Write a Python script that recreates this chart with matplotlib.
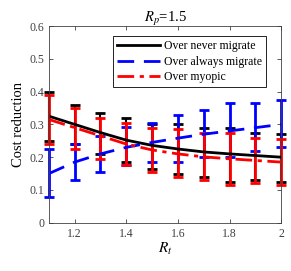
import matplotlib
matplotlib.use("Agg")
import matplotlib.pyplot as plt
import numpy as np

plt.rcParams['font.family'] = ['Liberation Serif', 'DejaVu Serif']
plt.rcParams['mathtext.fontset'] = 'stix'

rt = [1.1, 1.2, 1.3, 1.4, 1.5, 1.6, 1.7, 1.8, 1.9, 2.0]

never_mean = [0.325, 0.300, 0.275, 0.252, 0.236, 0.225, 0.216, 0.210, 0.205, 0.200]
never_hi   = [0.400, 0.360, 0.335, 0.318, 0.302, 0.300, 0.290, 0.290, 0.275, 0.270]
never_lo   = [0.248, 0.240, 0.210, 0.185, 0.165, 0.150, 0.140, 0.125, 0.130, 0.125]

always_mean = [0.150, 0.185, 0.210, 0.230, 0.245, 0.258, 0.270, 0.280, 0.290, 0.300]
always_hi   = [0.226, 0.240, 0.265, 0.293, 0.305, 0.330, 0.345, 0.365, 0.365, 0.375]
always_lo   = [0.080, 0.130, 0.155, 0.175, 0.185, 0.185, 0.200, 0.200, 0.220, 0.230]

myopic_mean = [0.315, 0.290, 0.265, 0.240, 0.222, 0.210, 0.201, 0.195, 0.190, 0.185]
myopic_hi   = [0.390, 0.350, 0.320, 0.305, 0.290, 0.285, 0.275, 0.275, 0.260, 0.255]
myopic_lo   = [0.240, 0.225, 0.195, 0.175, 0.155, 0.140, 0.130, 0.115, 0.120, 0.115]

labels = ['Over never migrate', 'Over always migrate', 'Over myopic']
xticks = [1.2, 1.4, 1.6, 1.8, 2.0]
xtick_labels = ['1.2', '1.4', '1.6', '1.8', '2']
yticks = [0, 0.1, 0.2, 0.3, 0.4, 0.5, 0.6]
ytick_labels = ['0', '0.1', '0.2', '0.3', '0.4', '0.5', '0.6']

fig = plt.figure(figsize=(2.91, 2.71), dpi=100)
ax = fig.add_axes([0.168, 0.178, 0.798, 0.726])

def err(mean, lo, hi):
    m = np.array(mean); return [m - np.array(lo), np.array(hi) - m]

ax.errorbar(rt, never_mean, yerr=err(never_mean, never_lo, never_hi), fmt='none',
            ecolor='black', elinewidth=1.5, capsize=3.5, capthick=2, clip_on=False)
ax.errorbar(rt, always_mean, yerr=err(always_mean, always_lo, always_hi), fmt='none',
            ecolor='blue', elinewidth=2, capsize=3.5, capthick=2, clip_on=False)
ax.errorbar(rt, myopic_mean, yerr=err(myopic_mean, myopic_lo, myopic_hi), fmt='none',
            ecolor='red', elinewidth=2, capsize=3.5, capthick=2, clip_on=False)

l1, = ax.plot(rt, never_mean, '-', color='black', lw=2, label=labels[0])
l2, = ax.plot(rt, always_mean, color='blue', lw=2, dashes=(6, 3.5), label=labels[1])
l3, = ax.plot(rt, myopic_mean, color='red', lw=2, dashes=(6, 2, 1.5, 2), label=labels[2])

ax.set_xlim(1.1, 2.0)
ax.set_ylim(0, 0.6)
ax.set_xticks(xticks)
ax.set_xticklabels(xtick_labels)
ax.set_yticks(yticks)
ax.set_yticklabels(ytick_labels)
ax.tick_params(direction='in', top=True, right=True, labelsize=8.5, length=3, width=0.6,
               colors='#404040')
for s in ax.spines.values():
    s.set_linewidth(0.6)
    s.set_color('#404040')

ax.set_title(r'$R_p$=1.5', fontsize=10.5, pad=3)
ax.set_xlabel(r'$R_t$', fontsize=11, labelpad=1)
ax.set_ylabel('Cost reduction', fontsize=10.5, labelpad=3)

leg = ax.legend(handles=[l1, l2, l3], loc='upper right', fontsize=8.5, frameon=True,
                fancybox=False, edgecolor='black', framealpha=1, handlelength=3.6,
                borderpad=0.35, labelspacing=0.3, handletextpad=0.35, borderaxespad=0,
                bbox_to_anchor=(0.935, 0.949))
leg.get_frame().set_linewidth(0.6)

fig.savefig('out.png', dpi=100)
